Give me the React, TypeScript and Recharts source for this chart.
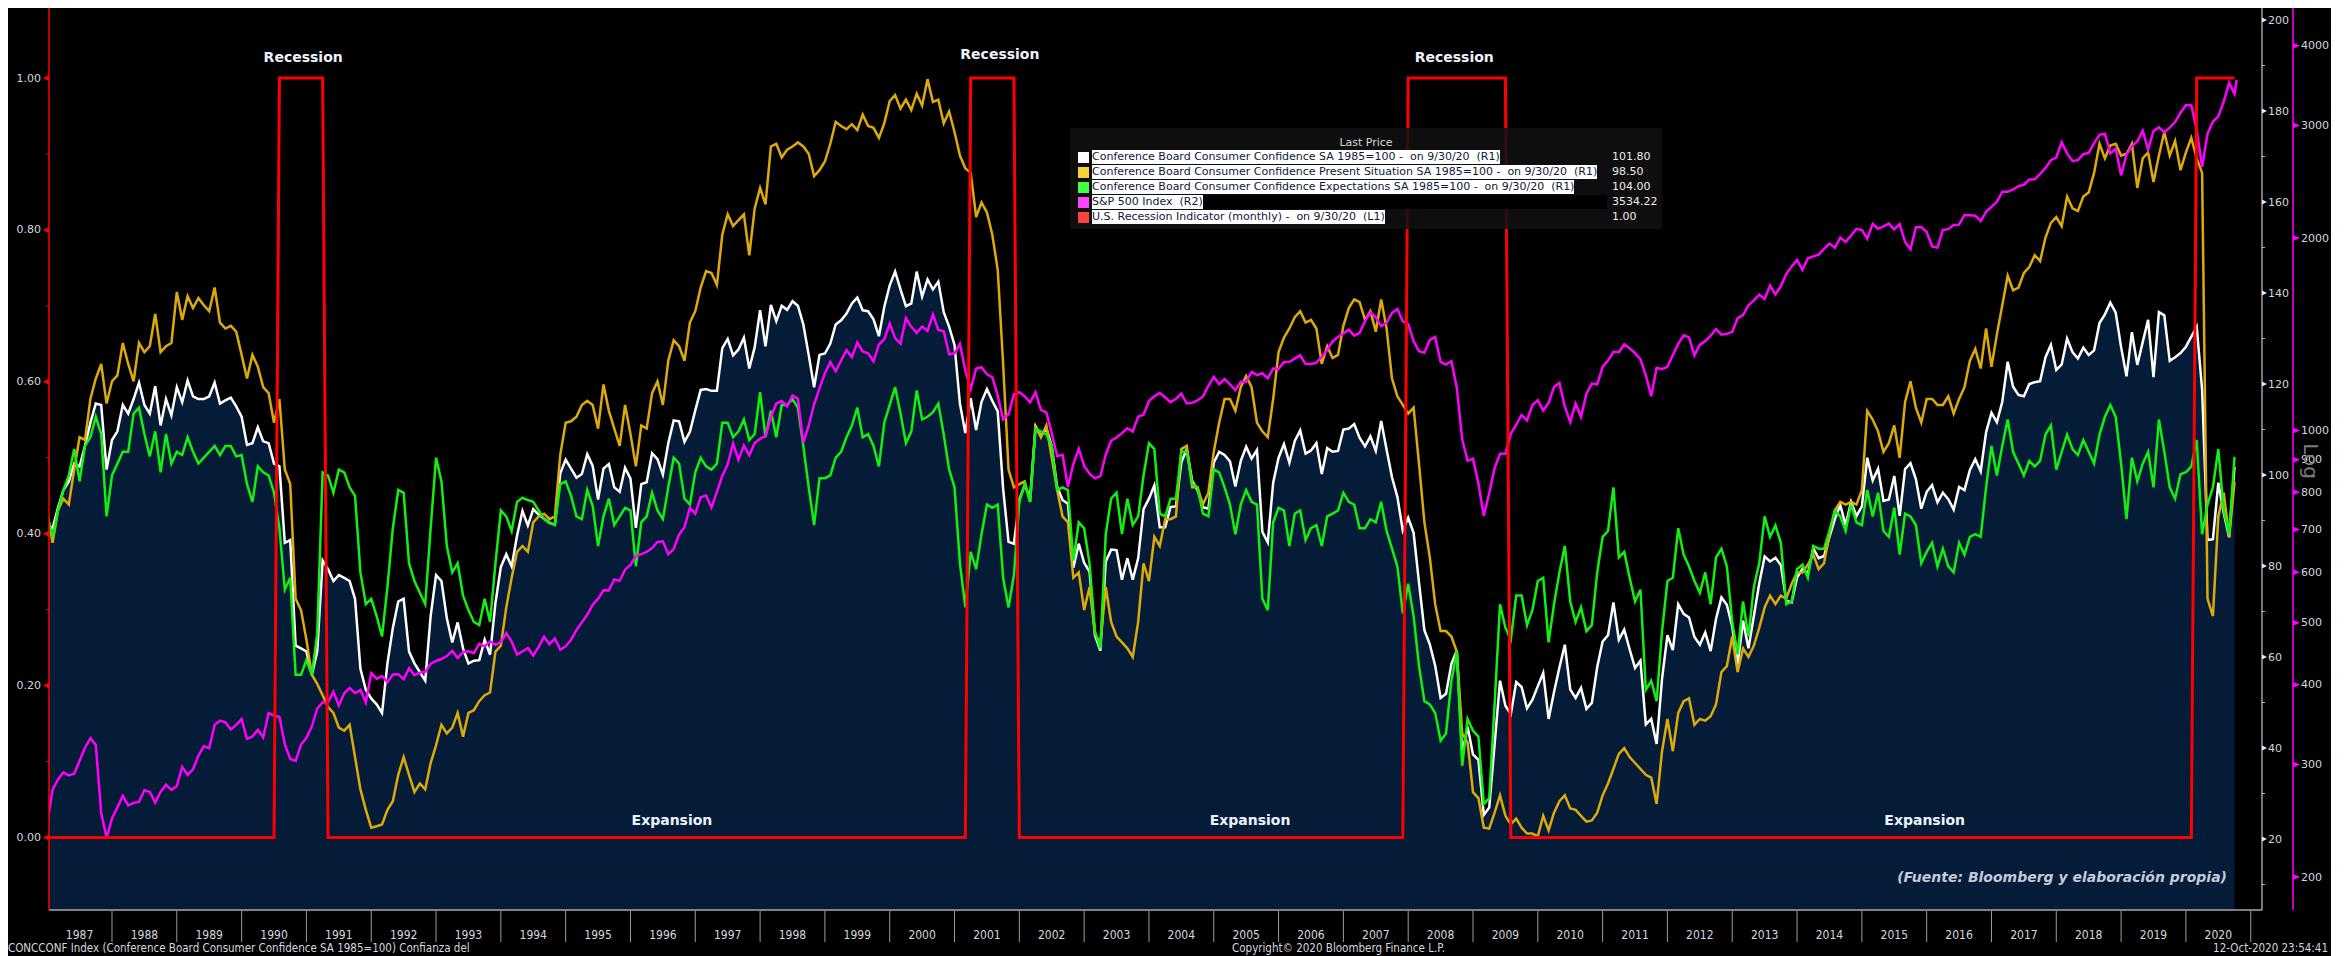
import React from 'react';
import { ComposedChart, Area, Line, XAxis, YAxis, ReferenceDot } from 'recharts';

// ---------- DATA (monthly, month-end, first value = Dec 1986) ----------
const firstYear = 1986;
const firstMonth = 12;

// Conference Board Consumer Confidence SA 1985=100 (R1)
const confidence = [
  89.0,
  88.3, 92.8, 96.7, 98.6, 102.5, 101.9, 106.4, 111.5, 115.7, 115.4, 101.2, 107.7,
  109.6, 115.4, 113.5, 116.7, 120.3, 115.4, 113.5, 119.5, 110.9, 116.7, 113.1, 119.3,
  116.0, 120.8, 117.3, 116.7, 116.7, 117.3, 120.3, 115.7, 116.4, 117.0, 115.1, 112.8,
  106.6, 107.0, 110.5, 107.4, 107.0, 102.5, 101.9, 85.1, 85.7, 62.5, 61.9, 61.2,
  56.1, 61.2, 81.2, 79.3, 76.7, 78.0, 77.4, 76.7, 72.8, 57.4, 52.8, 50.9,
  49.6, 47.7, 58.6, 66.4, 72.2, 72.8, 61.2, 58.6, 56.7, 54.8, 69.0, 78.0,
  76.7, 68.5, 63.2, 67.6, 61.9, 58.6, 59.2, 59.3, 63.8, 60.5, 71.9, 79.8,
  82.6, 79.9, 86.7, 92.1, 88.9, 92.5, 91.3, 90.4, 89.5, 89.1, 100.4, 103.4,
  101.4, 99.4, 100.2, 104.6, 102.0, 94.6, 101.4, 102.4, 97.3, 96.3, 101.6, 99.2,
  88.4, 98.0, 98.4, 104.8, 103.5, 100.1, 107.0, 112.0, 111.8, 107.3, 109.5, 114.2,
  118.7, 118.9, 118.5, 118.5, 127.9, 129.9, 126.3, 127.6, 130.2, 123.4, 128.1, 136.2,
  128.3, 137.4, 133.8, 137.2, 136.3, 138.2, 137.2, 133.1, 126.4, 119.3, 126.4, 126.7,
  128.9, 133.1, 134.0, 135.5, 137.7, 139.0, 136.2, 136.0, 134.2, 130.5, 137.0, 141.7,
  144.7, 140.8, 137.1, 137.7, 144.7, 139.2, 143.0, 140.8, 142.5, 135.8, 132.6, 128.6,
  115.7, 109.2, 116.9, 109.9, 116.1, 118.9, 116.3, 114.0, 97.0, 85.3, 84.9, 94.6,
  97.8, 95.0, 110.7, 108.5, 110.3, 106.3, 97.4, 94.5, 93.7, 79.6, 84.9, 80.7,
  78.8, 64.8, 61.4, 81.0, 83.6, 83.5, 77.0, 81.7, 77.0, 81.7, 92.5, 94.8,
  97.7, 88.5, 88.5, 93.0, 93.1, 102.8, 105.7, 98.7, 96.7, 92.9, 92.6, 102.7,
  105.1, 104.4, 103.0, 97.5, 103.1, 106.2, 103.6, 105.5, 87.5, 85.2, 98.3, 103.8,
  106.8, 102.7, 107.5, 109.8, 104.7, 105.4, 107.0, 100.2, 105.9, 105.1, 105.3, 110.0,
  110.2, 111.2, 108.2, 106.3, 108.5, 105.3, 111.9, 105.6, 99.5, 95.2, 87.8, 90.6,
  87.3, 76.4, 65.9, 62.8, 58.1, 51.0, 51.9, 58.5, 61.4, 38.8, 44.7, 38.6,
  37.4, 25.3, 26.9, 40.8, 54.8, 49.3, 47.4, 54.5, 53.4, 48.7, 50.6, 53.6,
  56.5, 46.4, 52.3, 57.7, 62.7, 52.9, 51.0, 53.2, 48.6, 49.9, 57.8, 63.4,
  64.8, 72.0, 63.8, 66.0, 61.7, 57.6, 59.2, 45.2, 46.4, 40.9, 55.2, 64.8,
  61.5, 71.6, 69.5, 68.7, 64.4, 62.7, 65.4, 61.3, 68.4, 73.1, 71.5, 66.7,
  58.4, 68.0, 61.9, 69.0, 76.2, 82.1, 81.0, 81.8, 80.2, 72.4, 72.0, 77.5,
  79.4, 78.3, 83.9, 81.7, 82.2, 86.4, 90.3, 93.4, 89.0, 94.1, 91.0, 93.1,
  103.8, 98.8, 101.4, 94.3, 94.6, 99.8, 91.0, 101.3, 102.6, 99.1, 92.6, 96.3,
  97.8, 94.0, 96.1, 94.7, 92.4, 97.4, 96.7, 101.1, 103.5, 100.8, 109.4, 113.7,
  111.6, 116.1, 124.9, 119.4, 117.6, 117.3, 120.0, 120.4, 120.6, 125.9, 128.6, 123.1,
  124.3, 130.0, 127.0, 125.6, 128.0, 126.4, 127.4, 133.4, 135.3, 137.9, 135.7, 128.1,
  121.7, 131.4, 124.2, 129.2, 134.1, 121.5, 135.8, 135.1, 125.1, 125.9, 126.8, 128.2,
  130.4, 132.6, 118.8, 85.7, 85.9, 98.3, 91.7, 86.3, 101.8,
];

// Present Situation SA 1985=100 (R1)
const presentSituation = [
  92.0,
  85.1, 92.2, 94.8, 93.5, 101.2, 108.3, 107.7, 116.7, 121.2, 124.4, 115.7, 120.6,
  121.9, 129.0, 124.4, 120.6, 129.0, 127.0, 128.3, 135.4, 127.0, 128.3, 129.0, 140.2,
  134.1, 139.3, 136.7, 138.9, 137.3, 136.0, 141.2, 133.5, 132.2, 132.8, 131.5, 126.4,
  121.2, 126.4, 123.8, 119.3, 118.0, 111.5, 116.7, 101.2, 98.0, 72.8, 70.3, 63.8,
  56.1, 54.1, 51.6, 49.0, 47.7, 44.5, 43.8, 45.1, 38.0, 30.9, 26.4, 22.5,
  22.8, 23.2, 26.4, 28.3, 34.1, 38.0, 34.1, 30.3, 32.2, 30.9, 36.7, 40.6,
  45.1, 43.2, 44.5, 47.7, 42.5, 47.7, 48.3, 50.3, 51.6, 52.2, 61.2, 62.5,
  70.9, 77.4, 83.1, 84.4, 83.1, 89.6, 90.9, 91.5, 90.3, 90.9, 104.4, 111.5,
  111.8, 112.8, 115.4, 116.3, 115.4, 110.2, 119.9, 114.1, 110.2, 106.4, 115.4, 109.0,
  101.9, 110.9, 110.2, 118.0, 120.6, 115.4, 125.1, 129.6, 128.3, 125.1, 133.5, 136.0,
  141.2, 144.8, 144.4, 141.8, 152.8, 157.3, 154.7, 156.0, 157.3, 148.3, 158.6, 163.1,
  159.5, 172.2, 172.8, 169.8, 171.5, 172.2, 173.1, 172.2, 170.6, 165.7, 167.0, 168.9,
  172.8, 177.6, 176.7, 176.0, 177.1, 175.8, 179.2, 176.7, 176.3, 174.1, 177.3, 182.2,
  183.5, 180.5, 182.5, 180.2, 183.8, 181.2, 187.0, 182.0, 182.5, 177.3, 179.9, 175.4,
  170.2, 167.4, 166.4, 156.7, 159.9, 157.7, 152.8, 145.1, 124.4, 101.2, 97.3, 98.0,
  98.6, 94.1, 110.9, 108.3, 110.9, 103.8, 96.7, 90.9, 89.6, 77.4, 78.6, 70.3,
  75.4, 65.1, 63.0, 75.4, 67.7, 64.5, 63.2, 61.9, 60.0, 67.7, 80.6, 76.7,
  86.4, 84.4, 90.3, 90.3, 90.9, 105.7, 106.4, 97.3, 97.3, 93.5, 96.1, 105.1,
  111.5, 116.7, 116.7, 114.1, 119.3, 121.8, 119.3, 111.5, 109.6, 108.3, 116.7, 127.0,
  130.2, 132.2, 134.7, 136.0, 133.5, 134.1, 132.2, 124.4, 128.3, 125.7, 126.4, 132.8,
  136.7, 138.6, 138.0, 134.1, 136.0, 131.5, 138.6, 132.2, 121.2, 117.3, 115.4, 113.5,
  114.8, 102.5, 89.6, 81.9, 71.6, 65.7, 65.7, 64.5, 61.2, 43.2, 41.2, 30.3,
  29.0, 22.5, 22.3, 25.8, 29.6, 25.1, 23.2, 24.5, 22.5, 21.2, 21.2, 20.6,
  25.1, 21.9, 25.8, 28.3, 29.6, 26.7, 26.4, 25.1, 23.8, 24.1, 25.8, 29.6,
  32.2, 35.4, 38.7, 40.0, 38.0, 36.7, 35.4, 34.1, 33.5, 27.7, 39.3, 46.4,
  39.3, 47.7, 50.3, 50.9, 45.1, 46.4, 46.0, 47.0, 49.6, 56.7, 58.0, 64.5,
  56.7, 61.9, 60.0, 62.5, 66.4, 70.9, 73.5, 71.6, 73.5, 72.8, 76.1, 78.6,
  78.6, 80.3, 82.5, 79.3, 80.6, 87.0, 92.2, 94.1, 93.5, 94.1, 93.5, 96.7,
  114.1, 112.2, 109.6, 105.1, 107.0, 110.9, 103.8, 116.0, 120.6, 114.8, 111.5, 116.7,
  116.7, 115.4, 115.4, 117.3, 113.5, 116.7, 119.3, 125.1, 127.7, 123.4, 132.2, 123.8,
  130.9, 137.3, 143.8, 140.6, 141.2, 144.4, 145.7, 148.3, 147.0, 152.2, 155.4, 156.7,
  154.7, 161.2, 158.6, 158.0, 161.2, 162.1, 166.4, 172.8, 169.6, 172.4, 172.8, 170.2,
  170.6, 172.8, 163.1, 169.6, 170.9, 164.4, 170.2, 175.4, 170.2, 173.4, 167.0, 170.9,
  174.1, 169.6, 166.4, 72.8, 69.0, 90.9, 96.1, 86.4, 98.5,
];

// Expectations SA 1985=100 (R1)
const expectations = [
  91.0,
  86.4, 92.2, 96.7, 99.9, 105.7, 98.6, 106.4, 108.3, 112.8, 109.0, 90.9, 99.9,
  102.5, 105.1, 105.1, 113.5, 114.8, 109.0, 104.1, 109.6, 100.6, 109.0, 102.5, 105.1,
  104.4, 108.3, 105.1, 102.5, 103.8, 105.1, 106.4, 104.4, 106.4, 106.4, 104.1, 104.4,
  98.0, 94.1, 101.9, 100.6, 99.9, 96.1, 88.3, 74.8, 77.4, 56.1, 56.1, 59.3,
  56.1, 65.1, 100.6, 99.9, 96.1, 101.2, 100.6, 97.3, 95.4, 78.6, 71.6, 72.8,
  69.0, 64.5, 75.4, 88.3, 96.7, 96.1, 80.6, 76.7, 74.1, 71.6, 88.3, 103.8,
  98.6, 84.4, 78.6, 80.6, 73.5, 70.3, 67.7, 67.0, 72.8, 67.7, 80.6, 92.2,
  90.9, 87.7, 94.1, 95.0, 94.5, 94.1, 92.2, 90.3, 89.6, 89.0, 98.0, 98.6,
  95.4, 90.9, 90.3, 96.7, 93.2, 84.4, 90.9, 94.8, 89.0, 90.9, 92.8, 92.2,
  79.9, 89.6, 90.9, 96.1, 92.2, 90.3, 97.3, 103.8, 102.5, 94.8, 93.5, 100.6,
  103.8, 101.9, 101.2, 102.5, 111.5, 111.5, 108.3, 109.6, 112.2, 107.7, 109.0, 118.2,
  108.3, 114.1, 108.3, 115.4, 115.4, 116.7, 114.8, 106.4, 97.3, 89.0, 99.3, 99.3,
  99.9, 103.8, 105.1, 108.3, 110.9, 114.8, 108.3, 109.0, 106.4, 101.9, 111.5, 115.4,
  119.3, 113.5, 107.0, 109.6, 118.6, 112.2, 112.8, 113.8, 115.7, 108.9, 101.2, 97.3,
  80.6, 70.9, 83.1, 79.3, 87.0, 93.5, 92.8, 93.5, 77.4, 70.9, 78.0, 94.1,
  98.0, 94.1, 110.2, 109.6, 108.9, 106.4, 96.7, 97.3, 96.7, 81.2, 89.6, 88.3,
  80.6, 65.7, 61.9, 87.0, 94.8, 96.1, 87.0, 94.8, 89.0, 90.9, 99.9, 107.0,
  105.7, 91.5, 90.9, 94.8, 94.8, 105.1, 105.1, 98.0, 97.3, 91.5, 90.9, 101.2,
  100.6, 97.3, 93.5, 87.0, 93.5, 96.7, 94.1, 93.5, 72.8, 70.3, 89.6, 92.8,
  92.2, 84.4, 91.5, 92.2, 85.7, 88.3, 89.0, 84.4, 90.9, 91.5, 92.2, 96.1,
  94.1, 93.5, 88.3, 88.3, 90.3, 89.6, 94.1, 87.7, 83.8, 79.9, 69.6, 76.1,
  69.0, 58.0, 50.3, 49.6, 47.7, 41.6, 43.2, 54.8, 61.2, 36.1, 46.4, 43.8,
  42.5, 27.7, 29.0, 49.6, 71.6, 66.4, 63.8, 73.5, 73.5, 67.0, 70.3, 76.7,
  77.4, 63.2, 71.6, 78.6, 84.4, 72.2, 67.7, 70.9, 65.7, 67.0, 78.6, 86.4,
  87.7, 97.3, 81.9, 83.1, 77.4, 72.2, 74.8, 52.8, 54.8, 50.3, 65.7, 76.7,
  77.4, 88.3, 82.5, 79.9, 76.7, 74.1, 78.6, 71.6, 81.9, 83.8, 79.9, 67.7,
  60.6, 72.2, 64.5, 75.4, 80.6, 90.9, 86.4, 88.9, 85.1, 71.6, 72.2, 79.3,
  80.3, 77.4, 84.4, 83.8, 83.8, 87.7, 92.2, 90.9, 87.7, 93.5, 89.6, 89.0,
  96.7, 90.9, 96.1, 87.7, 86.4, 92.8, 82.5, 91.5, 90.9, 89.0, 80.6, 83.1,
  85.1, 79.9, 83.8, 79.9, 78.6, 85.1, 82.5, 86.4, 87.0, 86.4, 97.3, 106.4,
  99.9, 106.4, 112.2, 105.1, 102.5, 99.9, 103.1, 101.9, 103.1, 108.9, 110.9, 101.2,
  105.1, 108.9, 105.7, 104.4, 107.7, 105.1, 102.5, 108.9, 112.8, 115.4, 112.8, 102.5,
  90.3, 103.8, 98.6, 102.5, 105.1, 97.3, 112.2, 105.1, 97.3, 94.8, 100.2, 100.6,
  101.9, 107.7, 87.0, 93.5, 97.3, 105.7, 92.2, 87.0, 104.0,
];

// S&P 500 Index month-end close (R2, log)
const sp500 = [
  242.2,
  274.1, 284.2, 291.7, 288.4, 290.1, 304.0, 318.7, 329.8, 321.8, 251.8, 230.3, 247.1,
  257.1, 267.8, 258.9, 261.3, 262.2, 273.5, 272.0, 261.5, 271.9, 279.0, 273.7, 277.7,
  297.5, 288.9, 294.9, 309.6, 320.5, 318.0, 346.1, 351.5, 349.2, 340.4, 346.0, 353.4,
  329.1, 331.9, 339.9, 330.8, 361.2, 358.0, 356.2, 322.6, 306.1, 304.0, 322.2, 330.2,
  343.9, 367.1, 375.2, 375.3, 389.8, 371.2, 387.8, 395.4, 387.9, 392.5, 375.2, 417.1,
  408.8, 412.7, 403.7, 415.0, 415.4, 408.1, 424.2, 414.0, 417.8, 418.7, 431.4, 435.7,
  438.8, 443.4, 451.7, 440.2, 450.2, 451.0, 448.1, 463.6, 458.9, 467.8, 461.8, 466.4,
  481.6, 467.1, 445.8, 450.9, 456.5, 444.3, 458.3, 475.5, 462.7, 472.4, 453.7, 459.3,
  470.4, 487.4, 500.7, 514.7, 533.4, 544.8, 562.1, 561.9, 584.4, 581.5, 605.4, 615.9,
  636.0, 640.4, 645.5, 654.2, 669.1, 670.6, 640.0, 652.0, 687.3, 705.3, 757.0, 740.7,
  786.2, 790.8, 757.1, 801.3, 848.3, 885.1, 954.3, 899.5, 947.3, 914.6, 955.4, 970.4,
  980.3, 1049.3, 1101.8, 1111.8, 1090.8, 1133.8, 1120.7, 957.3, 1017.0, 1098.7, 1163.6, 1229.2,
  1279.6, 1238.3, 1286.4, 1335.2, 1301.8, 1372.7, 1328.7, 1320.4, 1282.7, 1362.9, 1388.9, 1469.3,
  1394.5, 1366.4, 1498.6, 1452.4, 1420.6, 1454.6, 1430.8, 1517.7, 1436.5, 1429.4, 1315.2, 1320.3,
  1366.0, 1239.9, 1160.3, 1249.5, 1255.8, 1224.4, 1211.2, 1133.6, 1040.9, 1059.8, 1139.5, 1148.1,
  1130.2, 1106.7, 1147.4, 1076.9, 1067.1, 989.8, 911.6, 916.1, 815.3, 885.8, 936.3, 879.8,
  855.7, 841.2, 848.2, 916.9, 963.6, 974.5, 990.3, 1008.0, 996.0, 1050.7, 1058.2, 1111.9,
  1131.1, 1144.9, 1126.2, 1107.3, 1120.7, 1140.8, 1101.7, 1104.2, 1114.6, 1130.2, 1173.8, 1211.9,
  1181.3, 1203.6, 1180.6, 1156.9, 1191.5, 1191.3, 1234.2, 1220.3, 1228.8, 1207.0, 1249.5, 1248.3,
  1280.1, 1280.7, 1294.9, 1310.6, 1270.1, 1270.2, 1276.7, 1303.8, 1335.9, 1377.9, 1400.6, 1418.3,
  1438.2, 1406.8, 1420.9, 1482.4, 1530.6, 1503.4, 1455.3, 1474.0, 1526.8, 1549.4, 1481.1, 1468.4,
  1378.6, 1330.6, 1322.7, 1385.6, 1400.4, 1280.0, 1267.4, 1282.8, 1166.4, 968.8, 896.2, 903.3,
  825.9, 735.1, 797.9, 872.8, 919.1, 919.3, 987.5, 1020.6, 1057.1, 1036.2, 1095.6, 1115.1,
  1073.9, 1104.5, 1169.4, 1186.7, 1089.4, 1030.7, 1101.6, 1049.3, 1141.2, 1183.3, 1180.6, 1257.6,
  1286.1, 1327.2, 1325.8, 1363.6, 1345.2, 1320.6, 1292.3, 1218.9, 1131.4, 1253.3, 1247.0, 1257.6,
  1312.4, 1365.7, 1408.5, 1397.9, 1310.3, 1362.2, 1379.3, 1406.6, 1440.7, 1412.2, 1416.2, 1426.2,
  1498.1, 1514.7, 1569.2, 1597.6, 1630.7, 1606.3, 1685.7, 1633.0, 1681.6, 1756.5, 1805.8, 1848.4,
  1782.6, 1859.5, 1872.3, 1883.9, 1923.6, 1960.2, 1930.7, 2003.4, 1972.3, 2018.1, 2067.6, 2058.9,
  1995.0, 2104.5, 2067.9, 2085.5, 2107.4, 2063.1, 2103.8, 1972.2, 1920.0, 2079.4, 2080.4, 2043.9,
  1940.2, 1932.2, 2059.7, 2065.3, 2096.9, 2098.9, 2173.6, 2171.0, 2168.3, 2126.2, 2198.8, 2238.8,
  2278.9, 2363.6, 2362.7, 2384.2, 2411.8, 2423.4, 2470.3, 2471.7, 2519.4, 2575.3, 2647.6, 2673.6,
  2823.8, 2713.8, 2640.9, 2648.1, 2705.3, 2718.4, 2816.3, 2901.5, 2914.0, 2711.7, 2760.2, 2506.9,
  2704.1, 2784.5, 2834.4, 2945.8, 2752.1, 2941.8, 2980.4, 2926.5, 2976.7, 3037.6, 3141.0, 3230.8,
  3225.5, 2954.2, 2584.6, 2912.4, 3044.3, 3100.3, 3271.1, 3500.3, 3363.0,
];
// last intraday price shown (12-Oct-2020)
const sp500Last = { year: 2020, month: 10, day: 12, value: 3534.22 };

// U.S. Recession Indicator (monthly, L1): months flagged 1 (inclusive)
const recessionStart = ['1990-07', '2001-03', '2007-12', '2020-02'];
const recessionEnd = ['1991-03', '2001-11', '2009-06', '2020-09'];

const yearLabels = Array.from({ length: 34 }, (_, k) => 1987 + k);
const leftTicks = [0, 0.1, 0.2, 0.3, 0.4, 0.5, 0.6, 0.7, 0.8, 0.9, 1.0];
const r1Ticks = Array.from({ length: 20 }, (_, k) => (k + 1) * 10);
const r2Ticks = [200, 300, 400, 500, 600, 700, 800, 900, 1000, 2000, 3000, 4000];

const recessionLabels = [
  { x: 1990.95, y: 1.028 },
  { x: 2001.7, y: 1.032 },
  { x: 2008.71, y: 1.028 },
];
const expansionLabels = [
  { x: 1996.64, y: 0.023 },
  { x: 2005.56, y: 0.023 },
  { x: 2015.97, y: 0.023 },
];
const sourceNote = { x: 2020.634, y: -0.052, text: '(Fuente: Bloomberg y elaboración propia)' };

// ---------- build rows ----------
const toKey = (s: string) => {
  const [y, m] = s.split('-').map(Number);
  return y * 100 + m;
};
const rows: any[] = confidence.map((v, i) => {
  const k = firstMonth - 1 + i;
  const year = firstYear + Math.floor(k / 12);
  const month = (k % 12) + 1;
  const key = year * 100 + month;
  const inRec = recessionStart.some((s, j) => key >= toKey(s) && key <= toKey(recessionEnd[j]));
  return {
    t: year + month / 12,
    cci: v,
    psi: presentSituation[i],
    exp: expectations[i],
    spx: sp500[i],
    rec: inRec ? 1 : 0,
  };
});
rows.push({
  t: sp500Last.year + (sp500Last.month - 1 + sp500Last.day / 31) / 12,
  spx: sp500Last.value,
});

// ---------- layout ----------
const CHART_W = 2323;
const CHART_H = 948;
const LEFT_W = 41;
const R1_W = 31;
const R2_W = 38;
const X_H = 46;
const X_DOMAIN: [number, number] = [1987.028, 2021.174];
const PLOT_W = CHART_W - LEFT_W - R1_W - R2_W;
const HALF_YEAR = PLOT_W / (X_DOMAIN[1] - X_DOMAIN[0]) / 2;

const NAVY = '#051c38';
const FONT = '"DejaVu Sans", Verdana, sans-serif';
const NARROW = '"Liberation Sans Narrow", "Arial Narrow", "DejaVu Sans Condensed", sans-serif';
const LABEL_GREY = '#d4d8de';

const XTick = (p: any) => {
  const { x, y, payload } = p;
  return (
    <g>
      <text x={x} y={y + 25} textAnchor="middle" dominantBaseline="central" fontFamily={NARROW} fontSize={12} fill={LABEL_GREY}>
        {Math.floor(payload.value)}
      </text>
      <line x1={x + HALF_YEAR} x2={x + HALF_YEAR} y1={y + 1} y2={y + 32} stroke="#9c9c9c" strokeWidth={1} />
    </g>
  );
};

const LeftTick = (p: any) => {
  const { x, y, payload } = p;
  const v = payload.value;
  const major = Math.round(v * 10) % 2 === 0;
  if (!major) return <line x1={x - 3} x2={x} y1={y} y2={y} stroke="#ff0000" strokeWidth={1} />;
  return (
    <g>
      <polygon points={`${x},${y - 3} ${x},${y + 3} ${x - 6},${y}`} fill="#ff0000" />
      <text x={x - 8} y={y} textAnchor="end" dominantBaseline="central" fontFamily={FONT} fontSize={11} fill={LABEL_GREY}>
        {v.toFixed(2)}
      </text>
    </g>
  );
};

const R1Tick = (p: any) => {
  const { x, y, payload } = p;
  const v = payload.value;
  if (v % 20 !== 0) return <line x1={x} x2={x + 3} y1={y} y2={y} stroke="#b0b0b0" strokeWidth={1} />;
  return (
    <g>
      <polygon points={`${x},${y - 2.5} ${x},${y + 2.5} ${x + 5},${y}`} fill="#e8e8e8" />
      <text x={x + 6} y={y} textAnchor="start" dominantBaseline="central" fontFamily={FONT} fontSize={11} fill={LABEL_GREY}>
        {v}
      </text>
    </g>
  );
};

const R2Tick = (p: any) => {
  const { x, y, payload } = p;
  return (
    <g>
      <polygon points={`${x},${y - 3} ${x},${y + 3} ${x + 7},${y}`} fill="#ff00ff" />
      <text x={x + 8} y={y} textAnchor="start" dominantBaseline="central" fontFamily={FONT} fontSize={11} fill={LABEL_GREY}>
        {payload.value}
      </text>
    </g>
  );
};

const textShape = (text: string, style: any) => (p: any) => (
  <text x={p.cx} y={p.cy} dominantBaseline="central" {...style}>
    {text}
  </text>
);

const last = (a: number[]) => a[a.length - 1];
const legendRows = [
  { label: 'Conference Board Consumer Confidence SA 1985=100 -  on 9/30/20  (R1)', value: last(confidence).toFixed(2), color: '#ffffff' },
  { label: 'Conference Board Consumer Confidence Present Situation SA 1985=100 -  on 9/30/20  (R1)', value: last(presentSituation).toFixed(2), color: '#f2d33a' },
  { label: 'Conference Board Consumer Confidence Expectations SA 1985=100 -  on 9/30/20  (R1)', value: last(expectations).toFixed(2), color: '#42ff42' },
  { label: 'S&P 500 Index  (R2)', value: sp500Last.value.toFixed(2), color: '#ff42ff', bar: true },
  { label: 'U.S. Recession Indicator (monthly) -  on 9/30/20  (L1)', value: (1).toFixed(2), color: '#ff4040' },
];

const footStyle: any = {
  position: 'absolute',
  top: 935,
  fontFamily: NARROW,
  fontSize: 11.5,
  lineHeight: '11px',
  color: LABEL_GREY,
  whiteSpace: 'pre',
};

export default function App() {
  return (
    <div style={{ position: 'relative', width: CHART_W, height: CHART_H, background: '#000', overflow: 'hidden' }}>
      <ComposedChart width={CHART_W} height={CHART_H} data={rows} margin={{ top: 0, right: 0, bottom: 0, left: 0 }}>
        <XAxis
          dataKey="t"
          type="number"
          domain={X_DOMAIN}
          allowDataOverflow
          ticks={yearLabels.map((y) => y + 0.5)}
          interval={0}
          height={X_H}
          tickLine={false}
          tickSize={0}
          tickMargin={0}
          axisLine={{ stroke: '#a8a8a8', strokeWidth: 1.5 }}
          tick={(p: any) => <XTick {...p} />}
        />
        <YAxis
          yAxisId="L1"
          orientation="left"
          type="number"
          width={LEFT_W}
          domain={[-0.0955, 1.0922]}
          allowDataOverflow
          ticks={leftTicks}
          interval={0}
          tickLine={false}
          tickSize={0}
          tickMargin={0}
          axisLine={{ stroke: '#ff0000', strokeWidth: 1.5 }}
          tick={(p: any) => <LeftTick {...p} />}
        />
        <YAxis
          yAxisId="R1"
          orientation="right"
          type="number"
          width={R1_W}
          domain={[4.396, 202.64]}
          allowDataOverflow
          ticks={r1Ticks}
          interval={0}
          tickLine={false}
          tickSize={0}
          tickMargin={0}
          axisLine={{ stroke: '#a0a0a0', strokeWidth: 1.5 }}
          tick={(p: any) => <R1Tick {...p} />}
        />
        <YAxis
          yAxisId="R2"
          orientation="right"
          type="number"
          scale="log"
          width={R2_W}
          domain={[177.6, 4582]}
          allowDataOverflow
          ticks={r2Ticks}
          interval={0}
          tickLine={false}
          tickSize={0}
          tickMargin={0}
          axisLine={{ stroke: '#ff00ff', strokeWidth: 1.5 }}
          tick={(p: any) => <R2Tick {...p} />}
        />
        <Area
          yAxisId="R1"
          type="linear"
          dataKey="cci"
          stroke="#ffffff"
          strokeWidth={2.5}
          fill={NAVY}
          fillOpacity={1}
          dot={false}
          activeDot={false}
          isAnimationActive={false}
        />
        <Line yAxisId="R1" type="linear" dataKey="psi" stroke="#dcaa0a" strokeWidth={2.5} dot={false} activeDot={false} isAnimationActive={false} />
        <Line yAxisId="R1" type="linear" dataKey="exp" stroke="#12f012" strokeWidth={2.5} dot={false} activeDot={false} isAnimationActive={false} />
        <Line yAxisId="R2" type="linear" dataKey="spx" stroke="#ff00ff" strokeWidth={2.5} dot={false} activeDot={false} isAnimationActive={false} />
        <Line yAxisId="L1" type="linear" dataKey="rec" stroke="#ff0000" strokeWidth={3} dot={false} activeDot={false} isAnimationActive={false} />
        {recessionLabels.map((l, i) => (
          <ReferenceDot
            key={'r' + i}
            yAxisId="L1"
            x={l.x}
            y={l.y}
            r={0}
            ifOverflow="visible"
            shape={textShape('Recession', { textAnchor: 'middle', fontFamily: FONT, fontWeight: 'bold', fontSize: 14, fill: '#eef2ff' })}
          />
        ))}
        {expansionLabels.map((l, i) => (
          <ReferenceDot
            key={'e' + i}
            yAxisId="L1"
            x={l.x}
            y={l.y}
            r={0}
            ifOverflow="visible"
            shape={textShape('Expansion', { textAnchor: 'middle', fontFamily: FONT, fontWeight: 'bold', fontSize: 14, fill: '#eef2ff' })}
          />
        ))}
        <ReferenceDot
          yAxisId="L1"
          x={sourceNote.x}
          y={sourceNote.y}
          r={0}
          ifOverflow="visible"
          shape={textShape(sourceNote.text, { textAnchor: 'end', fontFamily: FONT, fontWeight: 'bold', fontStyle: 'italic', fontSize: 14, fill: '#c4cadc' })}
        />
      </ComposedChart>

      {/* legend box */}
      <div
        style={{
          position: 'absolute',
          left: 1062,
          top: 120,
          width: 592,
          height: 101,
          background: 'rgba(16,16,16,0.86)',
          fontFamily: FONT,
          fontSize: 11,
        }}
      >
        <div style={{ position: 'absolute', left: 0, width: 592, top: 8, textAlign: 'center', color: '#d8d8d8', fontSize: 11, lineHeight: '14px' }}>
          Last Price
        </div>
        {legendRows.map((r, i) => (
          <div key={i} style={{ position: 'absolute', left: 0, top: 22 + i * 15.1, height: 14, width: 592 }}>
            <div style={{ position: 'absolute', left: 8, top: 1.5, width: 11, height: 11, background: r.color }} />
            {r.bar && <div style={{ position: 'absolute', left: 22, top: 0, width: 515, height: 14, background: '#000' }} />}
            <span
              style={{
                position: 'absolute',
                left: 22,
                top: 0,
                height: 14,
                lineHeight: '14px',
                background: '#ffffff',
                color: '#0c1838',
                whiteSpace: 'pre',
              }}
            >
              {r.label}
            </span>
            <span style={{ position: 'absolute', left: 542, top: 0, lineHeight: '14px', color: '#ececec', fontSize: 11 }}>{r.value}</span>
          </div>
        ))}
      </div>

      {/* Log label on the S&P axis */}
      <div
        style={{
          position: 'absolute',
          left: 2283,
          top: 441,
          width: 40,
          height: 24,
          lineHeight: '24px',
          textAlign: 'center',
          transform: 'rotate(90deg)',
          fontFamily: FONT,
          fontSize: 20,
          color: '#7d7d7d',
        }}
      >
        Log
      </div>

      {/* footer */}
      <div style={{ ...footStyle, left: 0 }}>CONCCONF Index (Conference Board Consumer Confidence SA 1985=100) Confianza del</div>
      <div style={{ ...footStyle, left: 1224 }}>Copyright© 2020 Bloomberg Finance L.P.</div>
      <div style={{ ...footStyle, right: 3 }}>12-Oct-2020 23:54:41</div>
    </div>
  );
}
